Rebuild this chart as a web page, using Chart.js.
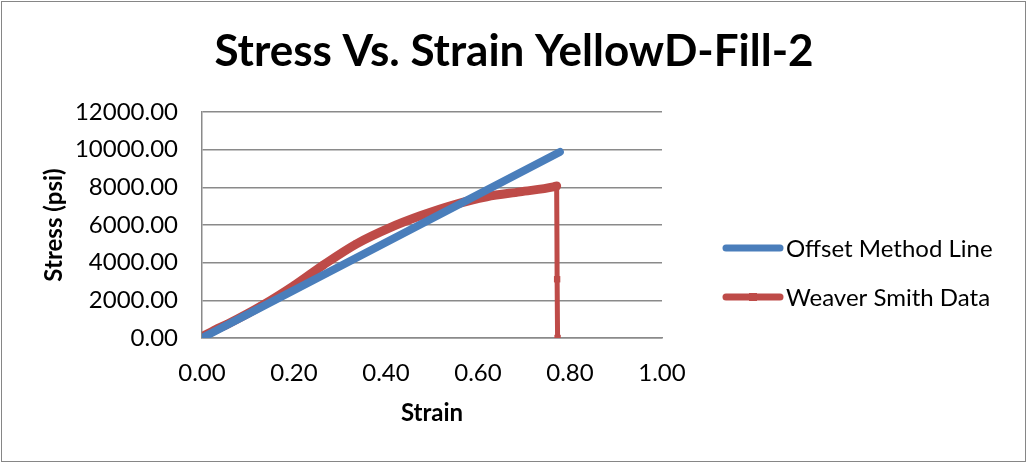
<!DOCTYPE html>
<html>
<head>
<meta charset="utf-8">
<script src="https://cdn.jsdelivr.net/npm/chart.js@4.4.0/dist/chart.umd.min.js"></script>
<style>
  html, body { margin: 0; padding: 0; background: #fff; }
  #wrap { width: 1028px; height: 465px; }
</style>
</head>
<body>
<div id="wrap"><canvas id="stress-strain-chart" width="1028" height="465"></canvas></div>
<script>
// Offset method line (straight line through the elastic region)
const offsetStrain = [0.000, 0.778];
const offsetStress = [0, 9880];

// Weaver Smith test data
const weaverStrain = [0.000, 0.028, 0.057, 0.130, 0.202, 0.264, 0.336, 0.409, 0.476, 0.546, 0.619, 0.691,
                      0.764, 0.771, 0.772, 0.773];
const weaverStress = [60, 425, 760, 1720, 2820, 3880, 5000, 5860, 6500, 7060, 7500, 7760,
                      8020, 8070, 3120, 0];

// Axis tick values
const strainTicks = [0, 0.2, 0.4, 0.6, 0.8, 1.0];
const stressTicks = [0, 2000, 4000, 6000, 8000, 10000, 12000];

const chartTitle = 'Stress Vs. Strain YellowD-Fill-2';

const fontFamily = 'Lato, Carlito, Calibri, "Open Sans", sans-serif';
const gridGray = '#8a8a8a';
const blue = '#4a7ebb';
const red = '#be4b48';

function toPoints(xs, ys) {
    return xs.map((x, i) => ({ x: x, y: ys[i] }));
}

// White background, thin frame and the centred title
const chartFrame = {
    id: 'chartFrame',
    beforeDraw(chart) {
        const ctx = chart.ctx;
        ctx.save();
        ctx.fillStyle = '#fff';
        ctx.fillRect(0, 0, chart.width, chart.height);
        ctx.strokeStyle = '#868686';
        ctx.lineWidth = 1;
        ctx.strokeRect(1.5, 1.5, chart.width - 4, chart.height - 5);
        ctx.fillStyle = '#000';
        ctx.font = 'bold 44px ' + fontFamily;
        ctx.textAlign = 'center';
        ctx.textBaseline = 'alphabetic';
        ctx.fillText(chartTitle, chart.width / 2, 66);
        ctx.restore();
    }
};

// Legend on the right: a short thick line per series, square marker on the marked series
const sideLegend = {
    id: 'sideLegend',
    afterDraw(chart) {
        const ctx = chart.ctx;
        const x0 = chart.chartArea.right + 64;
        const lineLen = 54;
        const rowGap = 49;
        const yStart = (chart.chartArea.top + chart.chartArea.bottom) / 2 + 23;
        ctx.save();
        ctx.font = '24px ' + fontFamily;
        ctx.textBaseline = 'middle';
        chart.data.datasets.forEach((ds, i) => {
            const y = yStart + i * rowGap;
            ctx.strokeStyle = ds.borderColor;
            ctx.lineWidth = 7;
            ctx.lineCap = 'round';
            ctx.beginPath();
            ctx.moveTo(x0, y);
            ctx.lineTo(x0 + lineLen, y);
            ctx.stroke();
            if (ds.pointRadius > 0) {
                ctx.fillStyle = ds.borderColor;
                ctx.fillRect(x0 + lineLen / 2 - 4, y - 4, 8, 8);
            }
            ctx.fillStyle = '#000';
            ctx.fillText(ds.label, x0 + lineLen + 6, y + 1);
        });
        ctx.restore();
    }
};

const ctx = document.getElementById('stress-strain-chart').getContext('2d');
new Chart(ctx, {
    type: 'scatter',
    data: {
        datasets: [{
            label: 'Offset Method Line',
            data: toPoints(offsetStrain, offsetStress),
            showLine: true,
            borderColor: blue,
            backgroundColor: blue,
            borderWidth: 8,
            borderCapStyle: 'round',
            pointRadius: 0
        }, {
            label: 'Weaver Smith Data',
            data: toPoints(weaverStrain, weaverStress),
            showLine: true,
            borderColor: red,
            backgroundColor: red,
            borderWidth: 9,
            borderCapStyle: 'round',
            borderJoinStyle: 'round',
            cubicInterpolationMode: 'monotone',
            pointStyle: 'rect',
            pointRadius: 4.5,
            pointBorderWidth: 0,
            segment: {
                // the failure drop is drawn thinner than the loading curve
                borderWidth: seg => seg.p1.parsed.y < seg.p0.parsed.y ? 5 : 9
            }
        }]
    },
    options: {
        responsive: false,
        animation: false,
        layout: { padding: { left: 36, right: 366, top: 112, bottom: 33 } },
        scales: {
            x: {
                type: 'linear',
                min: 0,
                max: 1,
                afterBuildTicks: axis => { axis.ticks = strainTicks.map(v => ({ value: v })); },
                afterFit: axis => { axis.height = 94; },
                ticks: {
                    callback: v => Number(v).toFixed(2),
                    font: { family: fontFamily, size: 24 },
                    color: '#000',
                    padding: 21,
                    maxRotation: 0
                },
                grid: { display: false, drawTicks: false },
                border: { display: true, color: gridGray, width: 1.5 },
                title: {
                    display: true,
                    text: 'Strain',
                    font: { family: fontFamily, size: 24, weight: 'bold' },
                    color: '#000',
                    padding: { top: 11, bottom: 4 }
                }
            },
            y: {
                min: 0,
                max: 12000,
                afterBuildTicks: axis => { axis.ticks = stressTicks.map(v => ({ value: v })); },
                afterFit: axis => { axis.width = 166; },
                ticks: {
                    callback: v => Number(v).toFixed(2),
                    font: { family: fontFamily, size: 24 },
                    color: '#000',
                    padding: 24
                },
                grid: { color: gridGray, lineWidth: 1.5, drawTicks: false },
                border: { display: true, color: gridGray, width: 1.5 },
                title: {
                    display: true,
                    text: 'Stress (psi)',
                    font: { family: fontFamily, size: 24, weight: 'bold' },
                    color: '#000',
                    padding: { top: 4, bottom: 7 }
                }
            }
        },
        plugins: {
            title: { display: false },
            legend: { display: false },
            tooltip: { enabled: false }
        }
    },
    plugins: [chartFrame, sideLegend]
});
</script>
</body>
</html>
